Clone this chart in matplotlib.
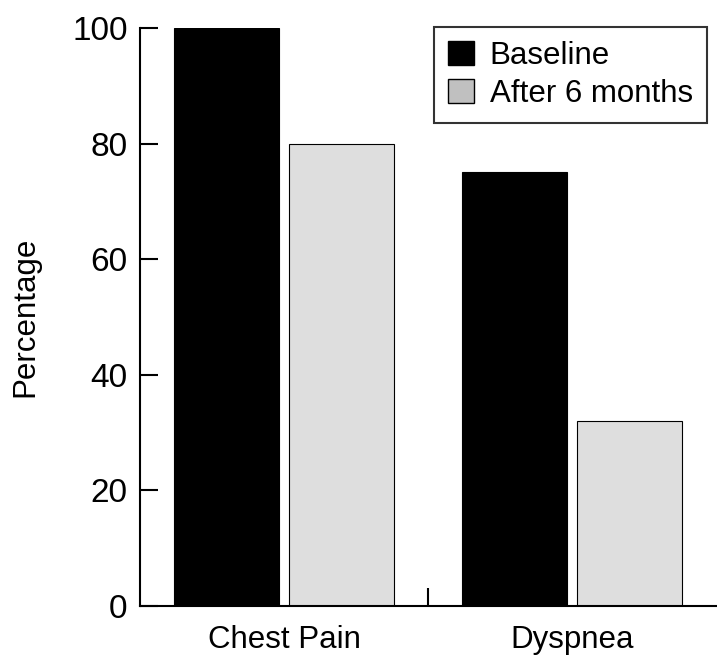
import matplotlib.pyplot as plt
from matplotlib.patches import Patch

plt.rcParams['font.family'] = ['Liberation Sans', 'DejaVu Sans']

categories = ['Chest Pain', 'Dyspnea']
baseline = [100, 75]
after_6m = [80, 32]

fig = plt.figure(figsize=(7.17, 6.6), dpi=100)
ax = fig.add_axes([0.1953, 0.0818, 0.8033, 0.8758])

x = range(len(categories))
w = 0.363
ax.bar([i - 0.2 for i in x], baseline, width=w, color='black', edgecolor='black', linewidth=0.8)
ax.bar([i + 0.2 for i in x], after_6m, width=w, color='#dedede', edgecolor='black', linewidth=0.8)

ax.set_xlim(-0.5, 1.5)
ax.set_ylim(0, 100)
ax.spines['top'].set_visible(False)
ax.spines['right'].set_visible(False)
ax.spines['left'].set_linewidth(1.5)
ax.spines['bottom'].set_linewidth(1.5)

ax.set_yticks([0, 20, 40, 60, 80, 100])
ax.tick_params(axis='y', direction='in', length=13, width=1.5, labelsize=24, pad=9)
ax.set_xticks(list(x))
ax.set_xticklabels(categories)
ax.tick_params(axis='x', length=0, labelsize=22.5, pad=14)
ax.set_xticks([0.5], minor=True)
ax.tick_params(axis='x', which='minor', direction='in', length=13, width=1.5)

ax.set_ylabel('Percentage', fontsize=22.5, labelpad=23)

handles = [Patch(facecolor='black', edgecolor='black'),
           Patch(facecolor='#c0c0c0', edgecolor='black')]
leg = ax.legend(handles, ['Baseline', 'After 6 months'], loc='upper right',
                bbox_to_anchor=(0.984, 1.002), fontsize=22.5, frameon=True,
                fancybox=False, edgecolor='black', handlelength=0.82,
                handleheight=0.82, handletextpad=0.5, borderpad=0.45,
                labelspacing=0.25, borderaxespad=0)
leg.get_frame().set_linewidth(1.5)

fig.savefig('out.png', dpi=100)
